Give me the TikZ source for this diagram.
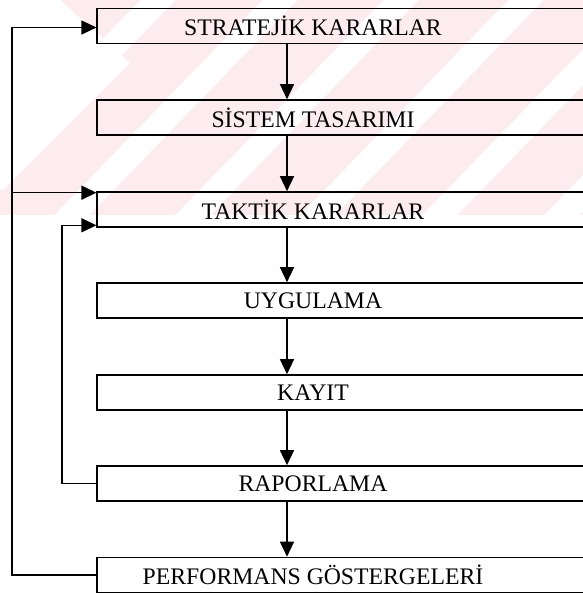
\documentclass[tikz,border=0pt]{standalone}
\usepackage{fontspec}
\setmainfont{Liberation Serif}
\usetikzlibrary{arrows.meta}
\definecolor{wm}{RGB}{253,236,239}
\begin{document}
\begin{tikzpicture}[x=1bp,y=-1bp,
  box/.style={draw=black, line width=1.6bp, minimum width=543bp, minimum height=35bp, inner sep=0pt},
  lbl/.style={font=\fontsize{23.8}{26}\selectfont, inner sep=0pt},
  arr/.style={line width=1.4bp, -{Triangle[length=15bp,width=14bp]}}]
\useasboundingbox (0,0) rectangle (583,593);
\clip (0,0) rectangle (583,593);
% watermark
\begin{scope}
\clip (0,0) rectangle (583,215);
\fill[wm] (0,0) rectangle (583,215);
\foreach \c in {158,280,401,526,648,770}{
  \fill[white] (\c-17.5,0) -- (\c+17.5,0) -- (\c+17.5-208,215) -- (\c-17.5-208,215) -- cycle;}
\fill[white] (0,0) -- (60,0) -- (130,63) -- (3,190) -- (0,190) -- cycle;
\end{scope}
% boxes
\node[box, label={[lbl, xshift=-55.75bp]center:STRATEJİK KARARLAR}] (b1) at (368.75,26) {};
\node[box, label={[lbl, xshift=-55.75bp]center:SİSTEM TASARIMI}] (b2) at (368.75,117.5) {};
\node[box, label={[lbl, xshift=-55.75bp]center:TAKTİK KARARLAR}] (b3) at (368.75,209.5) {};
\node[box, label={[lbl, xshift=-55.75bp]center:UYGULAMA}] (b4) at (368.75,300.5) {};
\node[box, label={[lbl, xshift=-55.75bp]center:KAYIT}] (b5) at (368.75,392.5) {};
\node[box, label={[lbl, xshift=-55.75bp]center:RAPORLAMA}] (b6) at (368.75,483.5) {};
\node[box, label={[lbl, xshift=-55.75bp]center:PERFORMANS GÖSTERGELERİ}] (b7) at (368.75,575) {};
% helper coordinates
\coordinate (ax) at (287,0);
\coordinate (ox) at (12,0);
\coordinate (ix) at (62,0);
\coordinate (a1) at ([yshift=-1.5bp]b1.west);
\coordinate (a3) at ([yshift=-1.5bp]b3.north west);
\coordinate (a3b) at ([yshift=2.5bp]b3.south west);
% main flow
\draw[arr] (b1.south -| ax) -- (b2.north -| ax);
\draw[arr] (b2.south -| ax) -- (b3.north -| ax);
\draw[arr] (b3.south -| ax) -- (b4.north -| ax);
\draw[arr] (b4.south -| ax) -- (b5.north -| ax);
\draw[arr] (b5.south -| ax) -- (b6.north -| ax);
\draw[arr] (b6.south -| ax) -- (b7.north -| ax);
% feedback
\draw[arr] (b7.west) -- (b7.west -| ox) -- (ox |- a1) -- (a1);
\draw[arr] (ox |- a3) -- (a3);
\draw[arr] (b6.west) -- (b6.west -| ix) -- (ix |- a3b) -- (a3b);
\end{tikzpicture}
\end{document}
